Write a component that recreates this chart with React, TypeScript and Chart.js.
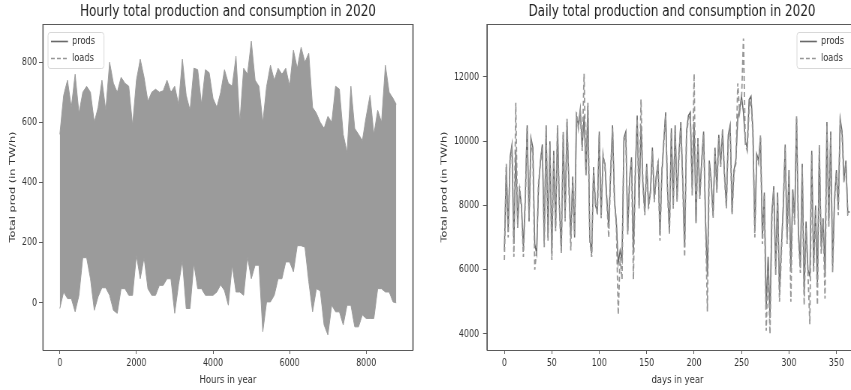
import { useEffect, useRef } from 'react';
import { Chart, registerables } from 'chart.js';

Chart.register(...registerables);

// ---------- Hourly panel (band read as upper / lower envelope of the hourly curves) ----------
const HOURLY_UPPER = [
  560, 690, 740, 650, 760, 630, 700, 720, 700, 600,
  650, 740, 640, 800, 730, 700, 750, 730, 720, 590,
  740, 810, 750, 670, 700, 710, 700, 705, 740, 700,
  720, 660, 810, 690, 640, 780, 775, 660, 775, 765,
  680, 650, 700, 775, 730, 720, 820, 600, 780, 760,
  870, 740, 720, 600, 720, 790, 740, 780, 760, 780,
  720, 840, 780, 850, 800, 830, 650, 630, 600, 580,
  620, 600, 720, 710, 560, 500, 720, 580, 560, 540,
  620, 690, 560, 640, 600, 790, 700, 680, 660,
];
const HOURLY_LOWER = [
  -19, 36, 14, 14, -30, 25, 150, 150, 80, -25,
  20, 50, 50, 25, -25, -35, 47, 47, 25, 25,
  158, 80, 150, 47, 25, 25, 58, 58, 80, 80,
  -35, 60, 140, -19, -19, 130, 47, 47, 25, 25,
  25, 36, 60, 40, -8, 125, 36, 36, 25, 152,
  80, 125, 125, -96, 3, 3, 25, 80, 80, 136,
  136, 103, 190, 190, 185, 70, -30, 47, 40, -74,
  -107, -8, -30, -30, -74, -8, -8, -80, -80, -40,
  -52, -52, -52, 47, 47, 36, 36, 3, 0,
];
const LAST_HOUR = 8783;
const HOURS = HOURLY_UPPER.map((_, i) => (i === HOURLY_UPPER.length - 1 ? LAST_HOUR : i * 100));
const HOURLY_X_TICKS = [0, 2000, 4000, 6000, 8000];
const HOURLY_Y_TICKS = [0, 200, 400, 600, 800];

// ---------- Daily panel (every second day) ----------
const DAILY_PRODS = [
  6600, 9200, 7200, 9500, 9900, 6800, 9700, 7400, 8500, 8000,
  6700, 8200, 10500, 7500, 10100, 9800, 6800, 6500, 8600, 9400,
  9900, 6900, 10500, 7000, 10000, 6500, 9700, 7300, 10400, 8000,
  6600, 10200, 7600, 10600, 8700, 7000, 8900, 7000, 10800, 10500,
  11000, 9800, 10800, 9000, 11100, 7000, 6500, 9200, 8000, 7800,
  10300, 7700, 9500, 9300, 8200, 7300, 9000, 10500, 8200, 7500,
  6200, 6600, 6300, 10100, 10300, 7200, 8800, 9500, 6500, 9000,
  10800, 8000, 10500, 8700, 7800, 9300, 8000, 8400, 9800, 8200,
  8900, 9300, 7100, 9000, 10000, 10900, 8500, 7200, 10400, 8000,
  10500, 8200, 9600, 10600, 8800, 6700, 10300, 10800, 10900, 8500,
  10600, 7500, 10100, 8300, 9400, 10300, 7600, 5800, 9400, 8800,
  7700, 9800, 8500, 10200, 9300, 10300, 9000, 8000, 10200, 10500,
  7800, 9100, 9400, 10700, 11000, 11400, 10900, 10000, 9800, 11300,
  11400, 10300, 7200, 9600, 9400, 10100, 7000, 8400, 4800, 6400,
  4500, 7800, 8600, 6000, 8400, 5300, 6700, 8000, 9900, 7000,
  9100, 6000, 8500, 7600, 10700, 7200, 6100, 9300, 5300, 7500,
  6000, 5800, 9700, 6100, 8000, 5600, 9800, 6700, 7600, 5900,
  10600, 7500, 10300, 6100, 8200, 9100, 7900, 10700, 10300, 8800,
  9400, 7800, 7800,
];
const DAILY_LOADS = [
  6300, 9300, 7000, 9400, 9800, 6400, 11200, 7300, 8600, 7900,
  6400, 8100, 10400, 7600, 10000, 9600, 6000, 6600, 8700, 9300,
  9800, 6700, 10400, 6900, 9900, 6300, 9600, 7200, 10500, 7900,
  6500, 10300, 7500, 10700, 8600, 6600, 8800, 7100, 10900, 10400,
  10900, 9700, 12100, 8900, 11200, 6900, 6400, 9100, 8100, 7700,
  10200, 7600, 9600, 9200, 8100, 7000, 9100, 10400, 8100, 7400,
  4600, 6400, 5700, 10000, 10200, 7100, 8900, 9400, 5700, 9100,
  10700, 7900, 11300, 8600, 7700, 9200, 7900, 8500, 9700, 8100,
  8800, 9400, 6900, 9100, 9900, 10800, 8400, 7100, 10300, 7900,
  10400, 8100, 9500, 10500, 8700, 6400, 10200, 10700, 10800, 8300,
  12100, 7400, 10000, 8200, 9300, 10200, 7500, 4700, 9300, 8700,
  7600, 9700, 8400, 10100, 9200, 10400, 8900, 7900, 10100, 10400,
  7700, 9000, 9300, 11800, 10900, 11300, 13200, 9900, 9700, 11000,
  11300, 10200, 7000, 9500, 9300, 10200, 6800, 8300, 4100, 6000,
  4000, 7600, 8500, 5800, 8300, 5000, 6500, 7900, 9800, 6800,
  9000, 5000, 8400, 7400, 10800, 7000, 5900, 9200, 4900, 7300,
  5900, 4300, 9600, 5900, 7900, 4900, 9900, 6500, 7500, 5100,
  10500, 7300, 10200, 5900, 8100, 9000, 7700, 10600, 10200, 8700,
  9300, 7700, 7700,
];
const DAYS = DAILY_PRODS.map((_, i) => i * 2);
const DAILY_X_TICKS = [0, 50, 100, 150, 200, 250, 300, 350];
const DAILY_Y_TICKS = [4000, 6000, 8000, 10000, 12000];

const SERIES_LABELS = ['prods', 'loads'];
const TITLES = ['Hourly total production and consumption in 2020', 'Daily total production and consumption in 2020'];
const X_TITLES = ['Hours in year', 'days in year'];
const Y_TITLE = 'Total prod (in TW/h)';

// The reference figure is horizontally compressed: draw wider and squeeze with CSS.
const K = 0.75;
const FONT = '"DejaVu Sans", "Noto Sans", sans-serif';
const AXIS = 'rgb(90,90,90)';
const TEXT = '#333';
const BAND = 'rgb(155,155,155)';
const PROD_COLOR = 'rgb(105,105,105)';
const LOAD_COLOR = 'rgb(150,150,150)';

const framePlugin = {
  id: 'frame',
  afterDatasetsDraw(chart: any) {
    const { ctx, chartArea: a } = chart;
    ctx.save();
    ctx.strokeStyle = AXIS;
    ctx.lineWidth = 1;
    ctx.beginPath();
    ctx.moveTo(a.left, Math.round(a.top) + 0.5);
    ctx.lineTo(a.right, Math.round(a.top) + 0.5);
    ctx.moveTo(a.left, Math.round(a.bottom) + 0.5);
    ctx.lineTo(a.right, Math.round(a.bottom) + 0.5);
    ctx.stroke();
    ctx.lineWidth = 1.2 / K;
    ctx.beginPath();
    ctx.moveTo(a.left, a.top);
    ctx.lineTo(a.left, a.bottom + 0.5);
    ctx.moveTo(a.right, a.top);
    ctx.lineTo(a.right, a.bottom + 0.5);
    ctx.stroke();
    ctx.restore();
  },
};

const boxLegendPlugin = {
  id: 'boxLegend',
  afterDraw(chart: any, _args: any, opts: any) {
    const { ctx, chartArea: a } = chart;
    const w = opts.width / K;
    const h = 36;
    const x = opts.anchor === 'right' ? a.right - opts.offsetX / K : a.left + opts.offsetX / K;
    const y = Math.round(a.top + opts.offsetY) + 0.5;
    ctx.save();
    ctx.beginPath();
    ctx.roundRect(x, y, w, h, 3);
    ctx.fillStyle = 'rgba(255,255,255,0.85)';
    ctx.fill();
    ctx.strokeStyle = '#d8d8d8';
    ctx.lineWidth = 1;
    ctx.stroke();
    SERIES_LABELS.forEach((label, i) => {
      const ly = y + 9 + i * 17;
      ctx.setLineDash(i === 0 ? [] : [5, 3]);
      ctx.strokeStyle = opts.colors[i];
      ctx.lineWidth = 1.6;
      ctx.beginPath();
      ctx.moveTo(x + 3 / K, ly);
      ctx.lineTo(x + 20 / K, ly);
      ctx.stroke();
      ctx.setLineDash([]);
      ctx.fillStyle = TEXT;
      ctx.font = `11px ${FONT}`;
      ctx.textBaseline = 'middle';
      ctx.textAlign = 'left';
      ctx.fillText(label, x + 24 / K, ly);
    });
    ctx.restore();
  },
};

function setTicks(values: number[]) {
  return (scale: any) => {
    scale.ticks = values.map((v) => ({ value: v }));
  };
}

function xAxis(min: number, max: number, ticks: number[], title: string) {
  return {
    type: 'linear',
    min,
    max,
    grid: { display: true, drawOnChartArea: false, tickLength: 4, color: AXIS, tickColor: AXIS },
    border: { display: true, color: AXIS },
    ticks: { color: TEXT, font: { family: FONT, size: 10.5 }, padding: 3, maxRotation: 0, autoSkip: false, callback: (v: any) => String(v) },
    afterBuildTicks: setTicks(ticks),
    title: { display: true, text: title, color: TEXT, font: { family: FONT, size: 11.3, lineHeight: 1 }, padding: { top: 0, bottom: 4 } },
    afterFit: (s: any) => { s.height = 40; },
  };
}

function yAxis(min: number, max: number, ticks: number[], width: number, pad: number, titlePad: number) {
  return {
    type: 'linear',
    min,
    max,
    grid: { display: true, drawOnChartArea: false, tickLength: 4 / K, color: AXIS, tickColor: AXIS, lineWidth: 1 },
    border: { display: true, color: AXIS },
    ticks: { color: TEXT, font: { family: FONT, size: 10.5 }, padding: pad / K, autoSkip: false, callback: (v: any) => String(v) },
    afterBuildTicks: setTicks(ticks),
    title: { display: true, text: Y_TITLE, color: TEXT, font: { family: FONT, size: 11.3, lineHeight: 1 }, padding: { top: titlePad, bottom: 0 } },
    afterFit: (s: any) => { s.width = width / K; },
  };
}

// Empty right-hand strip so the title stays centred on the whole panel.
function spacerAxis(width: number) {
  return {
    type: 'linear',
    position: 'right',
    display: true,
    grid: { display: false, drawOnChartArea: false },
    border: { display: false },
    ticks: { display: false },
    afterFit: (s: any) => { s.width = width / K; },
  };
}

function titleOpts(text: string) {
  return {
    display: true,
    text,
    color: '#222',
    font: { family: FONT, size: 16, weight: 'normal', lineHeight: 1 },
    padding: { top: 4, bottom: 4 },
  };
}

const LEFT_W = 456;
const LEFT_PLOT = [43, 413];
const RIGHT_LEFT = 430;
const RIGHT_W = 484;
const RIGHT_PLOT = [487, 868];

function HourlyChart() {
  const ref = useRef<HTMLCanvasElement>(null);
  useEffect(() => {
    const chart = new Chart(ref.current as HTMLCanvasElement, {
      type: 'line',
      data: {
        datasets: [
          {
            label: 'upper',
            data: HOURS.map((h, i) => ({ x: h, y: HOURLY_UPPER[i] })),
            borderColor: BAND,
            backgroundColor: BAND,
            borderWidth: 1,
            pointRadius: 0,
            fill: '+1',
          },
          {
            label: 'lower',
            data: HOURS.map((h, i) => ({ x: h, y: HOURLY_LOWER[i] })),
            borderColor: BAND,
            borderWidth: 1,
            pointRadius: 0,
            fill: false,
          },
        ],
      },
      options: {
        responsive: false,
        animation: false,
        devicePixelRatio: 1,
        layout: { padding: 0 },
        plugins: {
          legend: { display: false },
          tooltip: { enabled: false },
          title: titleOpts(TITLES[0]),
          boxLegend: { anchor: 'left', offsetX: 5, offsetY: 8, width: 56, colors: [PROD_COLOR, LOAD_COLOR] },
        } as any,
        scales: {
          x: xAxis(-439, 9222, HOURLY_X_TICKS, X_TITLES[0]),
          y: yAxis(-157, 927, HOURLY_Y_TICKS, LEFT_PLOT[0], 2, 11),
          pad: spacerAxis(LEFT_W - LEFT_PLOT[1]),
        } as any,
      },
      plugins: [framePlugin, boxLegendPlugin],
    } as any);
    return () => chart.destroy();
  }, []);
  return (
    <canvas
      ref={ref}
      width={Math.round(LEFT_W / K)}
      height={390}
      style={{ position: 'absolute', left: 0, top: 0, width: LEFT_W, height: 390 }}
    />
  );
}

function DailyChart() {
  const ref = useRef<HTMLCanvasElement>(null);
  useEffect(() => {
    const chart = new Chart(ref.current as HTMLCanvasElement, {
      type: 'line',
      data: {
        datasets: [
          {
            label: SERIES_LABELS[0],
            data: DAYS.map((d, i) => ({ x: d, y: DAILY_PRODS[i] })),
            borderColor: PROD_COLOR,
            borderWidth: 1.5,
            pointRadius: 0,
            fill: false,
            order: 1,
          },
          {
            label: SERIES_LABELS[1],
            data: DAYS.map((d, i) => ({ x: d, y: DAILY_LOADS[i] })),
            borderColor: LOAD_COLOR,
            borderWidth: 1.8,
            borderDash: [5, 3],
            pointRadius: 0,
            fill: false,
            order: 0,
          },
        ],
      },
      options: {
        responsive: false,
        animation: false,
        devicePixelRatio: 1,
        layout: { padding: 0 },
        plugins: {
          legend: { display: false },
          tooltip: { enabled: false },
          title: titleOpts(TITLES[1]),
          boxLegend: { anchor: 'right', offsetX: 71, offsetY: 8, width: 64, colors: [PROD_COLOR, LOAD_COLOR] },
        } as any,
        scales: {
          x: xAxis(-18.3, 383.3, DAILY_X_TICKS, X_TITLES[1]),
          y: yAxis(3500, 13650, DAILY_Y_TICKS, RIGHT_PLOT[0] - RIGHT_LEFT, 4, 13),
          pad: spacerAxis(RIGHT_LEFT + RIGHT_W - RIGHT_PLOT[1]),
        } as any,
      },
      plugins: [framePlugin, boxLegendPlugin],
    } as any);
    return () => chart.destroy();
  }, []);
  return (
    <canvas
      ref={ref}
      width={Math.round(RIGHT_W / K)}
      height={390}
      style={{ position: 'absolute', left: RIGHT_LEFT, top: 0, width: RIGHT_W, height: 390 }}
    />
  );
}

export default function App() {
  return (
    <div style={{ position: 'fixed', left: 0, top: 0, width: 851, height: 390, overflow: 'hidden', background: '#fff' }}>
      <HourlyChart />
      <DailyChart />
    </div>
  );
}
